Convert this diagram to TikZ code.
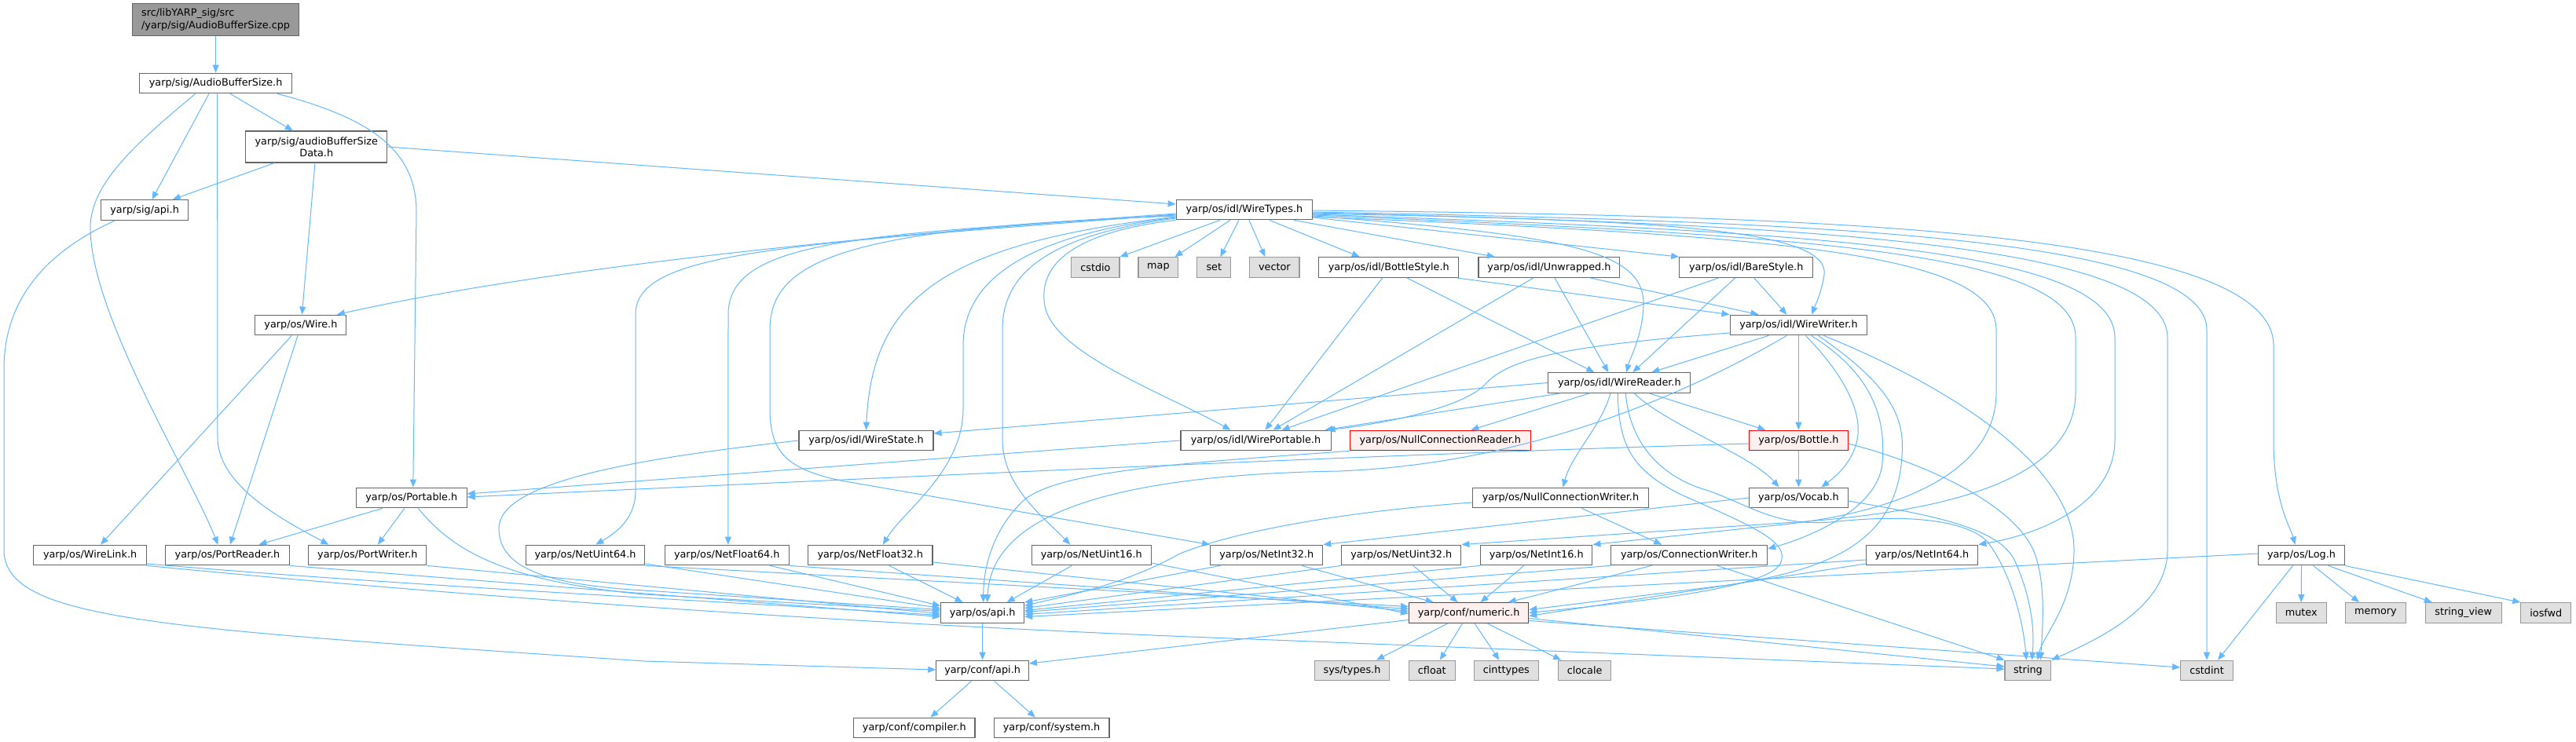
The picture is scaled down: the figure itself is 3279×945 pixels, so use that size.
\documentclass[tikz,border=0pt]{standalone}
\usepackage{fontspec}
\setmainfont{DejaVu Sans}
\usetikzlibrary{arrows.meta,calc}
\definecolor{edgec}{RGB}{99,184,255}
\definecolor{bordc}{RGB}{102,102,102}
\definecolor{extfill}{RGB}{224,224,224}
\definecolor{extbord}{RGB}{153,153,153}
\definecolor{rootfill}{RGB}{153,153,153}
\definecolor{redfill}{RGB}{255,240,240}
\newcommand\mkbox[6]{\node[#1, minimum width=#5*0.75pt] (#2) at (#3,#4) {#6};}
\begin{document}
\begin{tikzpicture}[x=0.75pt,y=-0.75pt, font=\fontsize{9.6}{11.3}\selectfont,
 nb/.style={draw=bordc, fill=white, line width=0.8pt, inner sep=0pt, minimum height=19.3pt},
 ext/.style={nb, draw=extbord, fill=extfill},
 trunc/.style={nb, draw=red, fill=redfill},
 root/.style={nb, fill=rootfill, minimum height=30.5pt, align=left},
 e/.style={draw=edgec, line width=0.75pt, -{Triangle[length=7.5pt,width=6pt]}}]
\fill[white] (0,0) rectangle (3279,945);
\useasboundingbox (0,0) rectangle (3279,945);
% ---------- nodes
\mkbox{root}{cpp}{274.6}{25}{212.4}{src/libYARP\_sig/src\\/yarp/sig/AudioBufferSize.cpp}
\mkbox{nb}{abs}{274.6}{106}{193.5}{yarp/sig/AudioBufferSize.h}
\mkbox{nb,minimum height=30pt,align=center}{absd}{402.8}{187}{180}{yarp/sig/audioBufferSize\\Data.h}
\mkbox{nb}{sigapi}{184.1}{267.5}{110.8}{yarp/sig/api.h}
\mkbox{nb}{wt}{1583.9}{267}{173.4}{yarp/os/idl/WireTypes.h}
\mkbox{ext}{cstdio}{1394.4}{340.5}{61.2}{cstdio}
\mkbox{ext}{nmap}{1474.4}{340.5}{50.8}{map}
\mkbox{ext}{nset}{1545.3}{340.5}{42.9}{set}
\mkbox{ext}{nvector}{1622.4}{340.5}{63.1}{vector}
\mkbox{nb}{bstyle}{1767.7}{340.5}{178.3}{yarp/os/idl/BottleStyle.h}
\mkbox{nb}{unwr}{1971.9}{340.5}{179.9}{yarp/os/idl/Unwrapped.h}
\mkbox{nb}{bare}{2222.7}{340.5}{169.9}{yarp/os/idl/BareStyle.h}
\mkbox{nb}{wire}{382.9}{414}{116.1}{yarp/os/Wire.h}
\mkbox{nb}{ww}{2289.4}{414}{174.7}{yarp/os/idl/WireWriter.h}
\mkbox{nb}{wr}{2061.3}{487.5}{181}{yarp/os/idl/WireReader.h}
\mkbox{nb}{wstate}{1102.5}{561}{171}{yarp/os/idl/WireState.h}
\mkbox{nb}{wport}{1598.5}{561}{191.1}{yarp/os/idl/WirePortable.h}
\mkbox{trunc}{ncr}{1833.3}{561}{230.1}{yarp/os/NullConnectionReader.h}
\mkbox{trunc}{bottle}{2289.4}{561}{125.5}{yarp/os/Bottle.h}
\mkbox{nb}{portable}{523.8}{634}{140.6}{yarp/os/Portable.h}
\mkbox{nb}{ncw}{1986.5}{634}{223.8}{yarp/os/NullConnectionWriter.h}
\mkbox{nb}{vocab}{2289.4}{634}{125.5}{yarp/os/Vocab.h}
\mkbox{nb}{wlink}{114.6}{707}{143.3}{yarp/os/WireLink.h}
\mkbox{nb}{preader}{289.5}{707}{157.4}{yarp/os/PortReader.h}
\mkbox{nb}{pwriter}{467.9}{707}{150.1}{yarp/os/PortWriter.h}
\mkbox{nb}{nu64}{745}{707}{151.9}{yarp/os/NetUint64.h}
\mkbox{nb}{nf64}{925.3}{707}{158.5}{yarp/os/NetFloat64.h}
\mkbox{nb}{nf32}{1107.8}{707}{158.4}{yarp/os/NetFloat32.h}
\mkbox{nb}{nu16}{1389.2}{707}{152.3}{yarp/os/NetUint16.h}
\mkbox{nb}{ni32}{1612.2}{707}{143.1}{yarp/os/NetInt32.h}
\mkbox{nb}{nu32}{1783.8}{707}{152.2}{yarp/os/NetUint32.h}
\mkbox{nb}{ni16}{1955.7}{707}{142.3}{yarp/os/NetInt16.h}
\mkbox{nb}{cw}{2150.2}{707}{198.8}{yarp/os/ConnectionWriter.h}
\mkbox{nb}{ni64}{2446.4}{707}{142.6}{yarp/os/NetInt64.h}
\mkbox{nb}{log}{2929.5}{707}{109.3}{yarp/os/Log.h}
\mkbox{nb}{osapi}{1250.6}{780.5}{106.2}{yarp/os/api.h}
\mkbox{trunc}{numeric}{1869.6}{780.5}{152.2}{yarp/conf/numeric.h}
\mkbox{ext}{mutex}{2929.2}{780.5}{63.9}{mutex}
\mkbox{ext}{memory}{3023.9}{780.5}{77.4}{memory}
\mkbox{ext}{sview}{3135.7}{780.5}{97}{string\_view}
\mkbox{ext}{iosfwd}{3240.8}{780.5}{64}{iosfwd}
\mkbox{nb}{confapi}{1250.6}{854}{117.7}{yarp/conf/api.h}
\mkbox{ext}{systypes}{1721}{854}{95.7}{sys/types.h}
\mkbox{ext}{cfloat}{1822.8}{854}{58.6}{cfloat}
\mkbox{ext}{cinttypes}{1917.3}{854}{82.1}{cinttypes}
\mkbox{ext}{clocale}{2017.1}{854}{67.4}{clocale}
\mkbox{ext}{nstring}{2581.4}{854}{58.9}{string}
\mkbox{ext}{cstdint}{2809}{854}{66.7}{cstdint}
\mkbox{nb}{compiler}{1163.8}{927}{154.3}{yarp/conf/compiler.h}
\mkbox{nb}{system}{1338.5}{927}{146.9}{yarp/conf/system.h}
% ---------- edges: top part
\draw[e] (cpp.south) -- (abs.north);
\draw[e] ($(abs.south)+(-8.6,0)$) -- ($(sigapi.north)+(9.4,0)$);
\draw[e] ($(abs.south)+(18.4,0)$) -- ($(absd.north)+(-30,0)$);
\draw[e] ($(abs.south)+(-26,0)$) .. controls (170,185) and (115,235) .. (115,290) .. controls (115,400) and (240,600) .. ($(preader.north)+(-12,0)$);
\draw[e] ($(abs.south)+(2,0)$) -- (277,560) .. controls (280,620) and (360,662) .. ($(pwriter.north)+(-49.5,0)$);
\draw[e] ($(abs.south)+(78.4,0)$) .. controls (470,150) and (530,190) .. (530,270) -- ($(portable.north)+(2,0)$);
\draw[e] ($(absd.south)+(-53.4,0)$) -- ($(sigapi.north)+(35.6,0)$);
\draw[e] ($(absd.south)+(-1.8,0)$) -- ($(wire.north)+(1.5,0)$);
\draw[e] (absd.east) -- ($(wt.west)+(0,-7)$);
\draw[e] ($(sigapi.south)+(-37.7,0)$) .. controls (60,320) and (5,380) .. (5,470) -- (5,700) .. controls (5,790) and (200,800) .. (820,842) -- ($(confapi.west)+(0,-1)$);
\draw[e] ($(wire.south)+(-11.6,0)$) -- ($(wlink.north)+(13.5,0)$);
\draw[e] ($(wire.south)+(-3.9,0)$) -- ($(preader.north)+(3.4,0)$);
% ---------- WireTypes
\draw[e] ($(wt.west)+(0,5)$) .. controls (1100,300) and (700,340) .. ($(wire.north)+(46,0)$);
\draw[e] ($(wt.west)+(0,6)$) .. controls (1000,312) and (809,320) .. (809,400) -- (809,625) .. controls (809,660) and (785,678) .. ($(nu64.north)+(13.4,0)$);
\draw[e] ($(wt.west)+(0,7)$) .. controls (1100,298) and (927,305) .. (927,400) -- ($(nf64.north)+(1.5,0)$);
\draw[e] ($(wt.west)+(0,8)$) .. controls (1080,290) and (980,330) .. (980,420) -- (980,520) .. controls (980,575) and (1000,597) .. (1070,612) -- (ni32.north west);
\draw[e] ($(wt.west)+(0,9)$) .. controls (1200,310) and (1110,380) .. (wstate.north);
\draw[e] ($(wt.west)+(0,10)$) .. controls (1300,300) and (1226,360) .. (1226,440) -- (1226,520) .. controls (1226,600) and (1150,650) .. ($(nf32.north)+(16,0)$);
\draw[e] ($(wt.west)+(0,11)$) .. controls (1330,300) and (1276,350) .. (1276,420) -- (1276,560) .. controls (1276,620) and (1330,660) .. ($(nu16.north)+(-27,0)$);
\draw[e] (wt.south west) .. controls (1370,295) and (1320,335) .. (1330,390) .. controls (1342,450) and (1480,500) .. ($(wport.north)+(-32,0)$);
\draw[e] ($(wt.south)+(-31,0)$) -- (cstdio.north east);
\draw[e] ($(wt.south)+(-18,0)$) -- ($(nmap.north)+(21,0)$);
\draw[e] ($(wt.south)+(-7,0)$) -- ($(nset.north)+(8,0)$);
\draw[e] ($(wt.south)+(6,0)$) -- ($(nvector.north)+(-12,0)$);
\draw[e] ($(wt.south)+(32,0)$) -- ($(bstyle.north)+(-37,0)$);
\draw[e] ($(wt.south)+(63,0)$) -- ($(unwr.north)+(-69,0)$);
\draw[e] ($(wt.east)+(0,10)$) -- (bare.north west);
\draw[e] ($(wt.east)+(0,8)$) .. controls (2000,300) and (2095,320) .. (2092,390) .. controls (2090,430) and (2075,455) .. ($(wr.north)+(9,0)$);
\draw[e] ($(wt.east)+(0,5)$) .. controls (2100,280) and (2330,290) .. (2322,350) .. controls (2318,375) and (2310,390) .. ($(ww.north)+(17,0)$);
\draw[e] ($(wt.east)+(0,1)$) .. controls (2300,275) and (2894,290) .. (2894,440) -- (2894,560) .. controls (2894,640) and (2915,670) .. ($(log.north)+(-8,0)$);
\draw[e] ($(wt.east)+(0,3)$) .. controls (2300,282) and (2809,300) .. (2809,420) -- (cstdint.north);
\draw[e] ($(wt.east)+(0,4)$) .. controls (2300,286) and (2759,310) .. (2759,430) -- (2759,700) .. controls (2759,770) and (2680,810) .. (nstring.north east);
\draw[e] ($(wt.east)+(0,6)$) .. controls (2300,295) and (2692,315) .. (2692,430) -- (2692,560) .. controls (2692,640) and (2600,680) .. (ni64.north east);
\draw[e] ($(wt.east)+(0,7)$) .. controls (2300,300) and (2642,320) .. (2642,430) -- (2642,500) .. controls (2642,610) and (2480,650) .. (2300,664) -- (nu32.north east);
\draw[e] ($(wt.east)+(0,9)$) .. controls (2250,300) and (2541,320) .. (2541,420) -- (2541,500) .. controls (2541,600) and (2420,655) .. (2250,670) -- (ni16.north east);
% ---------- styles
\draw[e] ($(bstyle.south)+(-8,0)$) -- ($(wport.north)+(12,0)$);
\draw[e] ($(bstyle.south)+(23,0)$) -- ($(wr.north)+(-32,0)$);
\draw[e] ($(bstyle.south east)+(-3,0)$) -- (ww.north west);
\draw[e] ($(unwr.south)+(-20,0)$) -- ($(wport.north)+(22,0)$);
\draw[e] ($(unwr.south)+(7,0)$) -- ($(wr.north)+(-14,0)$);
\draw[e] ($(unwr.south)+(52,0)$) -- ($(ww.north)+(-51,0)$);
\draw[e] ($(bare.south)+(-35,0)$) -- ($(wport.north)+(33,0)$);
\draw[e] ($(bare.south)+(-14,0)$) -- ($(wr.north)+(17,0)$);
\draw[e] ($(bare.south)+(10,0)$) -- ($(ww.north)+(-15,0)$);
% ---------- WireWriter
\draw[e] ($(ww.west)+(0,10)$) .. controls (2000,440) and (1920,455) .. (1890,490) .. controls (1860,520) and (1760,540) .. ($(wport.north east)+(-5,0)$);
\draw[e] ($(ww.south)+(-38,0)$) -- ($(wr.north)+(41,0)$);
\draw[e] ($(ww.south)+(-15,0)$) .. controls (2150,500) and (1950,590) .. (1705,600) .. controls (1400,605) and (1262,660) .. ($(osapi.north)+(6,0)$);
\draw[e] (ww.south) -- (bottle.north);
\draw[e] ($(ww.south)+(9,0)$) .. controls (2340,470) and (2372,520) .. (2364,560) .. controls (2358,590) and (2335,608) .. ($(vocab.north)+(29,0)$);
\draw[e] ($(ww.south)+(16,0)$) .. controls (2390,480) and (2400,540) .. (2396,590) .. controls (2390,650) and (2300,685) .. ($(cw.east)+(0,-8)$);
\draw[e] ($(ww.south)+(25,0)$) .. controls (2405,490) and (2425,530) .. (2421,580) .. controls (2415,690) and (2330,725) .. (2200,745) -- ($(numeric.east)+(0,-4)$);
\draw[e] ($(ww.south)+(32,0)$) .. controls (2500,500) and (2640,600) .. (2640,700) .. controls (2640,770) and (2600,810) .. ($(nstring.north)+(12,0)$);
% ---------- WireReader
\draw[e] (wr.west) -- ($(wstate.east)+(0,-9)$);
\draw[e] ($(wr.south west)+(16,0)$) -- ($(wport.north east)+(-8,0)$);
\draw[e] ($(wr.south)+(-38,0)$) -- ($(ncr.north)+(39,0)$);
\draw[e] ($(wr.south)+(-11.5,0)$) .. controls (2040,540) and (2000,580) .. ($(ncw.north)+(3,0)$);
\draw[e] ($(wr.south)+(-2,0)$) .. controls (2060,570) and (2080,600) .. (2140,630) .. controls (2230,670) and (2280,690) .. (2266,718) .. controls (2250,748) and (2100,765) .. (numeric.east);
\draw[e] ($(wr.south)+(8,0)$) .. controls (2075,570) and (2120,610) .. (2175,625) .. controls (2230,645) and (2260,670) .. (2330,665) .. controls (2420,655) and (2500,660) .. (2530,690) .. controls (2560,730) and (2575,790) .. ($(nstring.north)+(-2,0)$);
\draw[e] ($(wr.south)+(19,0)$) .. controls (2120,540) and (2230,580) .. ($(vocab.north)+(-25,0)$);
\draw[e] ($(wr.south)+(38,0)$) -- ($(bottle.north)+(-42,0)$);
% ---------- middle
\draw[e] (wstate.west) .. controls (800,585) and (635,615) .. (635,673) .. controls (635,725) and (700,745) .. (820,752) -- ($(osapi.west)+(0,-4)$);
\draw[e] (wport.west) -- ($(portable.east)+(0,-5)$);
\draw[e] ($(bottle.west)+(0,4)$) .. controls (1800,577) and (1200,605) .. ($(portable.east)+(0,-1)$);
\draw[e] (bottle.south) -- (vocab.north);
\draw[e] ($(bottle.east)+(0,4)$) .. controls (2450,590) and (2560,640) .. (2588,700) .. controls (2605,740) and (2600,800) .. ($(nstring.north)+(16,0)$);
\draw[e] (ncr.south west) .. controls (1500,590) and (1340,600) .. (1300,640) .. controls (1265,675) and (1252,720) .. ($(osapi.north)+(1,0)$);
\draw[e] ($(ncw.west)+(0,6)$) .. controls (1700,652) and (1560,680) .. (1500,706) .. controls (1430,745) and (1360,758) .. ($(osapi.east)+(0,-9)$);
\draw[e] ($(ncw.south)+(27,0)$) -- ($(cw.north)+(-35,0)$);
\draw[e] (vocab.west) -- (ni32.north east);
\draw[e] ($(vocab.east)+(0,4)$) .. controls (2450,655) and (2545,670) .. (2565,715) .. controls (2585,760) and (2590,800) .. ($(nstring.north)+(5,0)$);
% ---------- row of Net* and writers
\draw[e] ($(cw.south)+(-48,0)$) -- ($(numeric.north)+(50,0)$);
\draw[e] ($(cw.south)+(35.6,0)$) -- (nstring.north west);
\draw[e] (cw.south west) -- ($(osapi.east)+(0,-1)$);
\draw[e] ($(nu64.east)+(0,11)$) -- ($(osapi.west)+(0,-6)$);
\draw[e] (nu64.south east) -- ($(numeric.west)+(0,-8)$);
\draw[e] ($(nf64.south)+(55,0)$) -- ($(osapi.west)+(0,-9)$);
\draw[e] (nf64.south east) -- ($(numeric.west)+(0,-5)$);
\draw[e] ($(nf32.south)+(24,0)$) -- ($(osapi.north)+(-25,0)$);
\draw[e] ($(nf32.east)+(0,9)$) -- ($(numeric.west)+(0,-2)$);
\draw[e] ($(nu16.south)+(-25,0)$) -- ($(osapi.north)+(31,0)$);
\draw[e] ($(nu16.east)+(0,10)$) -- ($(numeric.west)+(0,1)$);
\draw[e] ($(ni32.south)+(-59,0)$) -- (osapi.north east);
\draw[e] ($(ni32.south)+(45,0)$) -- ($(numeric.north)+(-45,0)$);
\draw[e] ($(nu32.south)+(15,0)$) -- ($(numeric.north)+(-14,0)$);
\draw[e] (nu32.south west) -- ($(osapi.east)+(0,-6)$);
\draw[e] ($(ni16.south)+(-16,0)$) -- ($(numeric.north)+(15,0)$);
\draw[e] (ni16.south west) -- ($(osapi.east)+(0,-3)$);
\draw[e] ($(ni64.west)+(0,6)$) -- ($(osapi.east)+(0,2)$);
\draw[e] ($(ni64.west)+(0,11)$) -- ($(numeric.east)+(0,4)$);
\draw[e] ($(log.west)+(0,-2)$) -- ($(osapi.east)+(0,5)$);
\draw[e] ($(log.south)+(-11,0)$) -- ($(cstdint.north)+(14,0)$);
\draw[e] (log.south) -- (mutex.north);
\draw[e] ($(log.south)+(15,0)$) -- ($(memory.north)+(-21,0)$);
\draw[e] ($(log.south)+(34,0)$) -- ($(sview.north)+(-40,0)$);
\draw[e] (log.south east) -- (iosfwd.north west);
\draw[e] ($(wlink.east)+(0,11)$) .. controls (500,745) and (900,765) .. ($(osapi.west)+(0,3)$);
\draw[e] (wlink.south east) .. controls (700,770) and (1200,800) .. (1620,815) -- ($(nstring.west)+(0,-2)$);
\draw[e] (preader.south east) -- ($(osapi.west)+(0,5)$);
\draw[e] (pwriter.south east) -- ($(osapi.west)+(0,1)$);
\draw[e] ($(portable.south)+(8.6,0)$) .. controls (575,700) and (640,740) .. (820,757) -- ($(osapi.west)+(0,-2)$);
\draw[e] ($(portable.south)+(-37,0)$) -- ($(preader.north)+(40,0)$);
\draw[e] ($(portable.south)+(-9,0)$) -- ($(pwriter.north)+(13,0)$);
% ---------- numeric and api
\draw[e] ($(numeric.west)+(0,9)$) -- ($(confapi.east)+(0,-9)$);
\draw[e] ($(numeric.south)+(-26.6,0)$) -- ($(systypes.north)+(31,0)$);
\draw[e] ($(numeric.south)+(-8,0)$) -- ($(cfloat.north)+(10,0)$);
\draw[e] ($(numeric.south)+(7.4,0)$) -- ($(cinttypes.north)+(-9,0)$);
\draw[e] ($(numeric.south)+(23.4,0)$) -- ($(clocale.north)+(-30,0)$);
\draw[e] ($(numeric.east)+(0,7)$) -- ($(nstring.west)+(0,-5)$);
\draw[e] ($(numeric.east)+(0,10)$) -- ($(cstdint.west)+(0,-4)$);
\draw[e] (osapi.south) -- (confapi.north);
\draw[e] ($(confapi.south)+(-14,0)$) -- ($(compiler.north)+(20.6,0)$);
\draw[e] ($(confapi.south)+(15,0)$) -- ($(system.north)+(-20.7,0)$);
\end{tikzpicture}
\end{document}
